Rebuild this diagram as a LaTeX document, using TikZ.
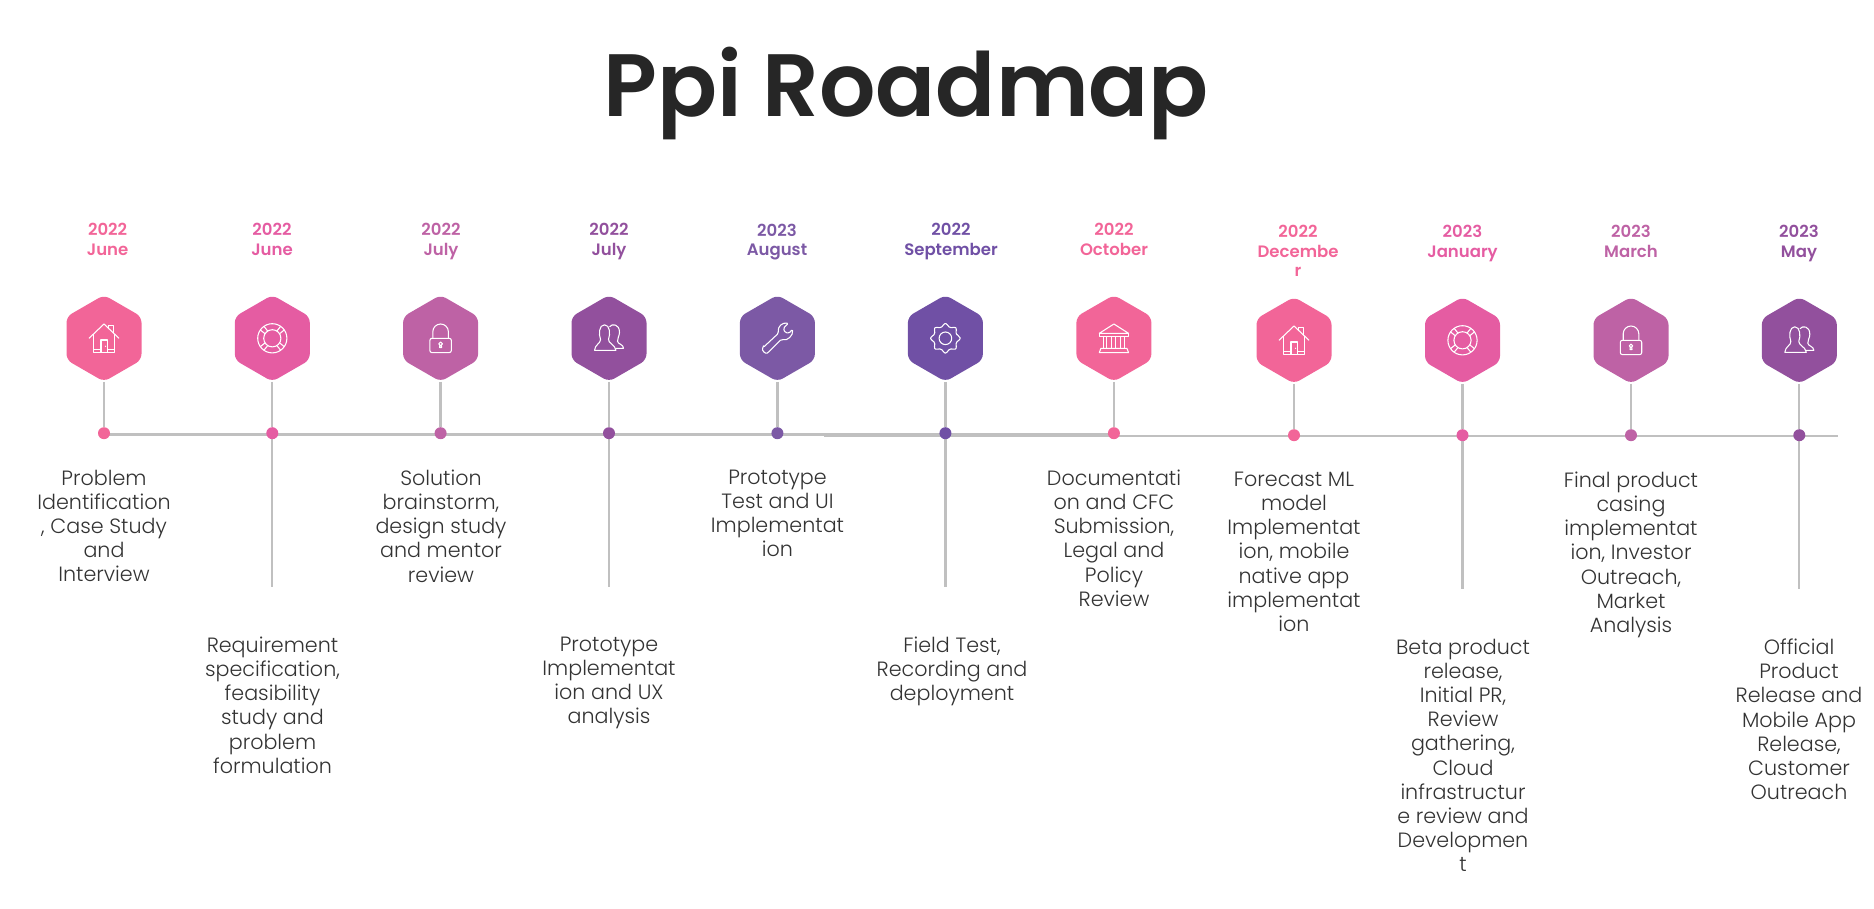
\documentclass[tikz,border=0pt]{standalone}
\usepackage{fontspec}
\setmainfont{Poppins}
\newfontfamily\lightfont{Poppins Light}
\newfontfamily\boldfont{Poppins SemiBold}
\usetikzlibrary{shapes.geometric,backgrounds}
\definecolor{pinka}{HTML}{F26598}
\definecolor{pinkb}{HTML}{E55CA2}
\definecolor{mauve}{HTML}{BE62A5}
\definecolor{plum}{HTML}{92509D}
\definecolor{violeta}{HTML}{7C59A5}
\definecolor{violetb}{HTML}{7050A5}
\definecolor{axisgray}{HTML}{C0C0C0}
\definecolor{titlegray}{HTML}{262626}
\tikzset{
  hexbox/.style={regular polygon,regular polygon sides=6,shape border rotate=30,
    minimum size=64.95pt,inner sep=0pt,rounded corners=4.5pt},
  dotmark/.style={circle,minimum size=9pt,inner sep=0pt},
  stemline/.style={draw=axisgray,line width=1.7pt},
  axisline/.style={draw=axisgray,line width=1.9pt},
  datelabel/.style={align=center,anchor=north,inner sep=0pt,font=\boldfont\fontsize{12.4}{14.6}\selectfont},
  bodytext/.style={align=center,anchor=north,inner sep=0pt,text=black!80,font=\lightfont\fontsize{15.5}{18.15}\selectfont},
  iconline/.style={draw=white,line width=0.8pt,line join=round},
  houseicon/.pic={
    \draw[iconline] (-15,0) -- (0,-14.3) -- (15,0);
    \draw[iconline] (4.7,-9.8) -- (4.7,-13) -- (9.5,-13) -- (9.5,-5);
    \draw[iconline] (-10.3,-4) -- (-10.3,14.3) -- (10.3,14.3) -- (10.3,-4);
    \draw[iconline] (-10.3,11) -- (-3,11) (3.5,11) -- (10.3,11);
    \draw[iconline] (-3,14.3) -- (-3,1.7) -- (3.5,1.7) -- (3.5,14.3);
    \fill[white] (1.5,8) circle (0.7);
  },
  buoyicon/.pic={
    \draw[iconline] (0,0) circle (14.6) (0,0) circle (8.6);
    \foreach \a in {45,135,225,315}
      \draw[iconline] (\a-13:8.6) -- (\a-10:14.6) (\a+13:8.6) -- (\a+10:14.6);
  },
  lockicon/.pic={
    \draw[iconline,rounded corners=1.5] (-10.7,0) rectangle (10.7,14.3);
    \draw[iconline] (-7.8,0) -- (-7.8,-6.5) arc[start angle=180,end angle=360,radius=7.8] -- (7.8,0);
    \draw[iconline] (0,5.6) circle (1.8) (-0.8,7.2) -- (-1,9.2) -- (1,9.2) -- (0.8,7.2);
  },
  peopleicon/.pic={
    \draw[iconline] (-8.5,1) .. controls (-10.5,-4) and (-10,-13.5) .. (-4.5,-13.5)
      .. controls (1,-13.5) and (1.5,-4) .. (-0.5,1) .. controls (-1,5) and (6,6) .. (7,12)
      -- (-14.5,12) .. controls (-14,6) and (-8,5) .. (-8.5,1) -- cycle;
    \draw[iconline] (0.5,-11.5) .. controls (3,-15) and (10.5,-14.5) .. (10.5,-6)
      .. controls (10.5,-2) and (8,0) .. (8.5,3) .. controls (9,6) and (14.5,6) .. (14.5,10) -- (6.5,10);
  },
  wrenchicon/.pic={
    \draw[iconline,rounded corners=1] (-14,9) -- (1,-5) .. controls (0,-12) and (5,-16) .. (11,-15)
      -- (6,-10) -- (7.5,-6) -- (11.5,-5) -- (15,-9) .. controls (16,-3) and (10,3) .. (4,1)
      -- (-9,14) .. controls (-12,16) and (-16,12) .. (-14,9) -- cycle;
  },
  gearicon/.pic={
    \draw[iconline,rounded corners=1] (-11:12.2)
      \foreach \a in {0,45,...,315} { -- (\a-11:12.2) -- (\a-7:14.8) -- (\a+7:14.8) -- (\a+11:12.2) } -- cycle;
    \draw[iconline] (0,0) circle (6.3);
  },
  bankicon/.pic={
    \draw[iconline] (-14.6,-5) -- (0,-14.3) -- (14.6,-5) -- cycle;
    \draw[iconline] (-14.6,-5) rectangle (14.6,-1.5);
    \foreach \x in {-10.5,-7,-2,2,7,10.5}
      \draw[iconline] (\x,-1.5) -- (\x,10);
    \draw[iconline] (-13,10) -- (13,10) -- (14.6,14.3) -- (-14.6,14.3) -- cycle;
  }
}
\begin{document}
\begin{tikzpicture}[x=0.75pt,y=-0.75pt]
\useasboundingbox (0,0) rectangle (1874,909);
\node[anchor=base,inner sep=0pt,text=titlegray,font=\boldfont\fontsize{66.4}{80}\selectfont] (title) at (906,117) {Ppi Roadmap};
% hexagons, dots and the stems between them
\foreach \n/\xx/\yy/\colr/\icon in {
  a/104/338.3/pinka/houseicon, b/272.3/338.3/pinkb/buoyicon, c/440.6/338.3/mauve/lockicon,
  d/609/338.3/plum/peopleicon, e/777.4/338.3/violeta/wrenchicon, f/945.4/338.3/violetb/gearicon,
  g/1113.9/338.3/pinka/bankicon, h/1294/340.3/pinka/houseicon, i/1462.5/340.3/pinkb/buoyicon,
  j/1631/340.3/mauve/lockicon, k/1799.3/340.3/plum/peopleicon}
{
  \node[hexbox,fill=\colr] (hex\n) at (\xx,\yy) {};
  \pic at (hex\n) {\icon};
  \node[dotmark,fill=\colr] (dot\n) at (\xx,\yy+94.9) {};
  \begin{pgfonlayer}{background}
    \draw[stemline] (hex\n.south) -- (dot\n);
  \end{pgfonlayer}
}
\begin{pgfonlayer}{background}
  % two axis pieces, they overlap
  \coordinate (axisa) at (104,434.7);
  \coordinate (axisb) at (1114,434.7);
  \coordinate (axisc) at (824,436.2);
  \coordinate (axisd) at (1838,436.2);
  \draw[axisline] (axisa) -- (axisb);
  \draw[axisline] (axisc) -- (axisd);
  % long stems under every second dot
  \foreach \n/\yy in {b/587,d/587,f/587,i/589,k/589}
  {
    \coordinate (tail\n) at (dot\n |- 0,\yy);
    \draw[stemline] (dot\n) -- (tail\n);
  }
\end{pgfonlayer}
% dates
\node[datelabel,text=pinka] (datea) at (107.6,223.4) {2022\\June};
\node[datelabel,text=pinkb] (dateb) at (272,223.4) {2022\\June};
\node[datelabel,text=mauve] (datec) at (441,223.4) {2022\\July};
\node[datelabel,text=plum] (dated) at (609,223.4) {2022\\July};
\node[datelabel,text=violeta] (datee) at (777,223.4) {2023\\August};
\node[datelabel,text=violetb] (datef) at (951,223.4) {2022\\September};
\node[datelabel,text=pinka] (dateg) at (1114,223.4) {2022\\October};
\node[datelabel,text=pinka] (dateh) at (1298,225.4) {2022\\Decembe\\r};
\node[datelabel,text=pinkb] (datei) at (1462.5,225.4) {2023\\January};
\node[datelabel,text=mauve] (datej) at (1631,225.4) {2023\\March};
\node[datelabel,text=plum] (datek) at (1799,225.4) {2023\\May};
% texts
\node[bodytext] (texta) at (104,469.5) {Problem\\Identification\\, Case Study\\and\\Interview};
\node[bodytext] (textb) at (272.5,636.5) {Requirement\\specification,\\feasibility\\study and\\problem\\formulation};
\node[bodytext] (textc) at (441,469.5) {Solution\\brainstorm,\\design study\\and mentor\\review};
\node[bodytext] (textd) at (609,636.5) {Prototype\\Implementat\\ion and UX\\analysis};
\node[bodytext] (texte) at (777.5,469.5) {Prototype\\Test and UI\\Implementat\\ion};
\node[bodytext] (textf) at (952,636.5) {Field Test,\\Recording and\\deployment};
\node[bodytext] (textg) at (1114,469.5) {Documentati\\on and CFC\\Submission,\\Legal and\\Policy\\Review};
\node[bodytext] (texth) at (1294,471.5) {Forecast ML\\model\\Implementat\\ion, mobile\\native app\\implementat\\ion};
\node[bodytext] (texti) at (1463,638.5) {Beta product\\release,\\Initial PR,\\Review\\gathering,\\Cloud\\infrastructur\\e review and\\Developmen\\t};
\node[bodytext] (textj) at (1631,471.5) {Final product\\casing\\implementat\\ion, Investor\\Outreach,\\Market\\Analysis};
\node[bodytext] (textk) at (1799,638.5) {Official\\Product\\Release and\\Mobile App\\Release,\\Customer\\Outreach};
\end{tikzpicture}
\end{document}
